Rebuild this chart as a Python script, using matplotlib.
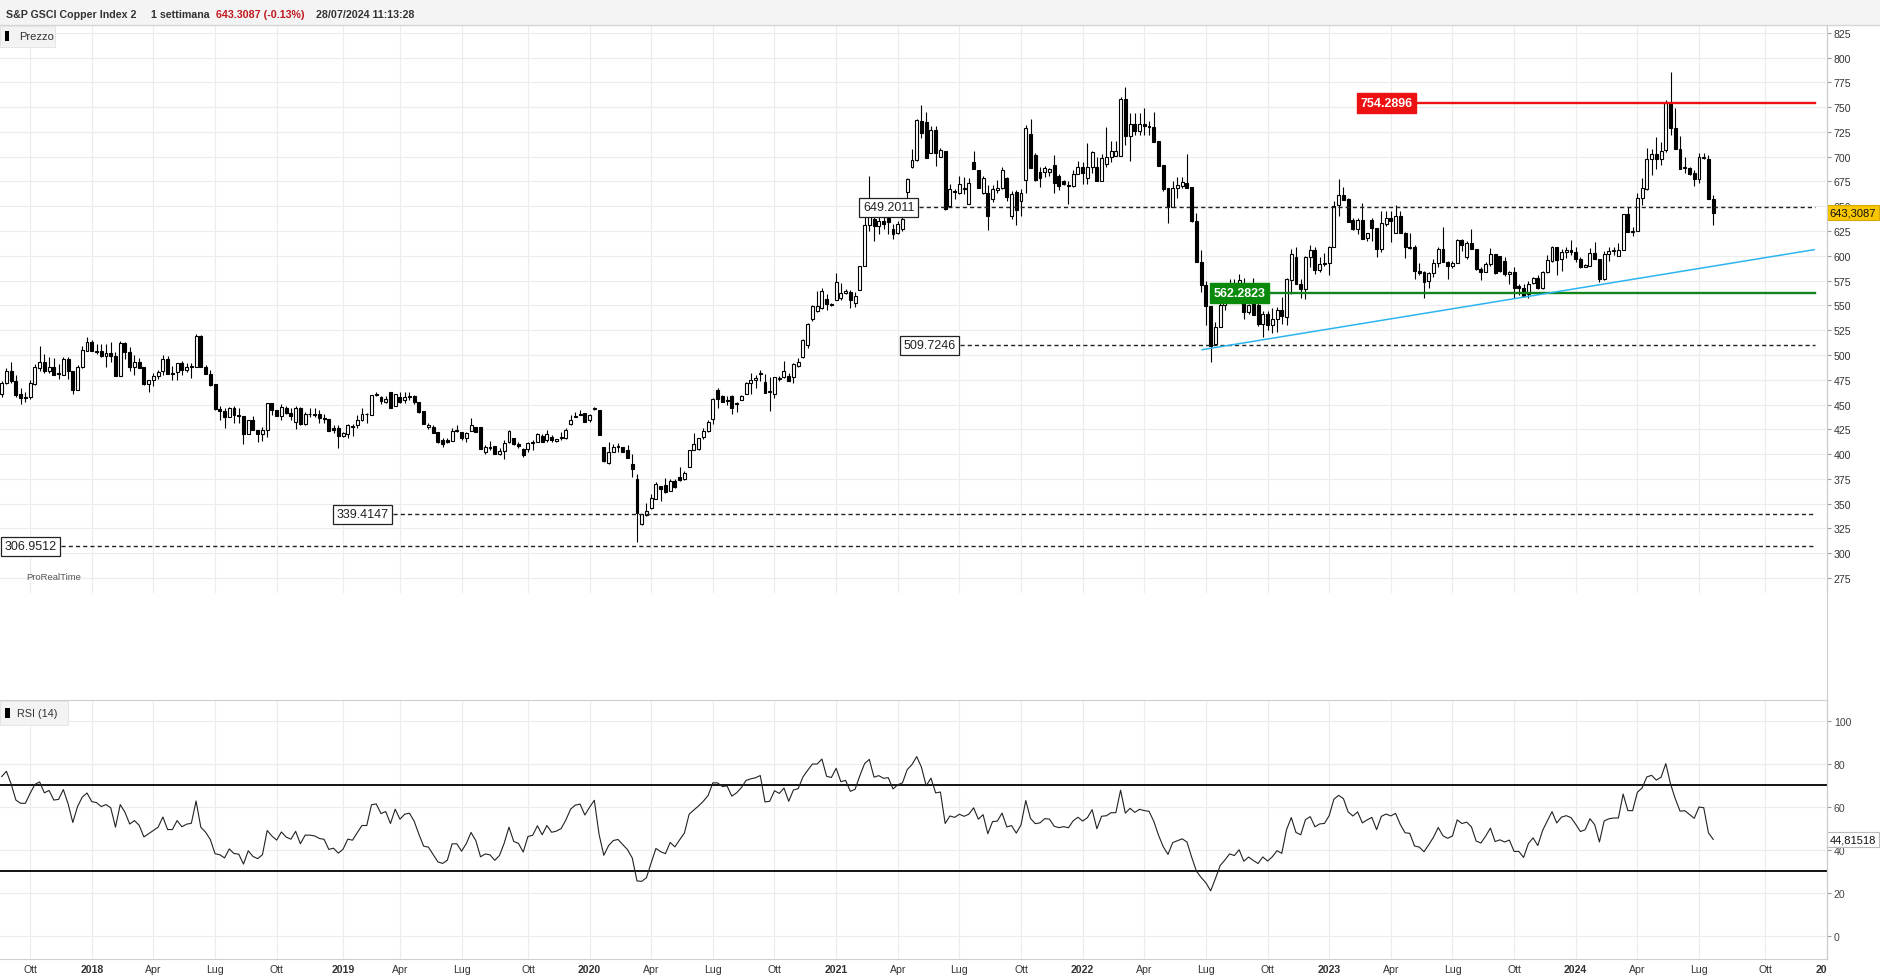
import numpy as np
import pandas as pd
import matplotlib
matplotlib.use("Agg")
import matplotlib.pyplot as plt
from matplotlib.patches import Rectangle
from matplotlib.lines import Line2D
from matplotlib.transforms import Bbox, TransformedBbox, blended_transform_factory

plt.rcParams['font.family'] = ['Liberation Sans', 'DejaVu Sans']

W, H = 1880, 979

# weekly bars, monday of the first bar
first_week = "2017-08-21"

opens = [
    461, 472, 484, 474, 461, 458, 458, 471, 487, 493, 484, 488, 482, 480, 496, 484, 465, 488, 504, 513,
    504, 504, 499, 502, 499, 479, 512, 503, 488, 493, 488, 471, 475, 479, 484, 496, 482, 483, 492, 485,
    488, 488, 519, 488, 481, 471, 445, 443, 437, 447, 439, 438, 420, 434, 424, 420, 424, 452, 444, 438,
    447, 441, 432, 447, 430, 440, 440, 440, 436, 435, 426, 426, 418, 420, 427, 429, 434, 440, 439, 460,
    458, 453, 463, 449, 458, 455, 458, 459, 453, 443, 427, 427, 422, 414, 414, 413, 424, 422, 416, 423,
    427, 427, 402, 406, 408, 400, 403, 412, 416, 410, 405, 405, 411, 412, 418, 414, 417, 413, 416, 416,
    430, 437, 440, 441, 434, 445, 444, 407, 391, 402, 407, 407, 404, 390, 375, 329, 339, 346, 355, 368,
    369, 363, 373, 377, 375, 387, 404, 405, 417, 423, 435, 465, 459, 454, 459, 452, 455, 461, 472, 475,
    481, 473, 463, 461, 476, 478, 479, 478, 489, 498, 510, 536, 544, 547, 556, 551, 555, 557, 562, 563,
    552, 566, 590, 631, 637, 630, 635, 638, 627, 623, 627, 664, 690, 697, 736, 735, 704, 727, 700, 706,
    650, 665, 663, 667, 652, 695, 687, 663, 663, 657, 666, 668, 678, 640, 664, 655, 676, 723, 702, 685,
    685, 685, 692, 680, 675, 671, 670, 683, 690, 678, 690, 690, 675, 693, 700, 701, 701, 758, 721, 733,
    726, 733, 731, 730, 716, 692, 668, 649, 668, 670, 673, 669, 635, 594, 571, 549, 511, 528, 550, 560,
    571, 566, 565, 543, 559, 550, 531, 541, 530, 536, 545, 538, 576, 599, 572, 567, 599, 606, 586, 592,
    593, 609, 651, 661, 657, 636, 627, 636, 618, 636, 628, 607, 632, 638, 623, 640, 623, 609, 609, 585,
    584, 575, 583, 593, 607, 594, 590, 593, 616, 599, 613, 607, 587, 584, 592, 602, 600, 595, 582, 584,
    570, 568, 561, 573, 578, 568, 584, 595, 609, 597, 604, 606, 604, 597, 589, 590, 603, 597, 577, 602,
    605, 600, 606, 642, 625, 625, 658, 667, 698, 703, 698, 707, 754, 729, 708, 689, 689, 684, 677, 699,
    698, 657,
]
highs = [
    474, 487, 493, 480, 467, 463, 475, 491, 509, 501, 498, 497, 491, 498, 498, 484, 490, 509, 518, 515,
    511, 511, 511, 513, 503, 514, 513, 508, 500, 497, 488, 475, 482, 485, 500, 499, 489, 492, 494, 492,
    492, 521, 520, 490, 485, 471, 449, 446, 448, 449, 446, 438, 434, 438, 424, 427, 452, 452, 444, 451,
    449, 446, 449, 448, 442, 446, 446, 444, 440, 435, 429, 429, 422, 430, 430, 439, 446, 441, 460, 463,
    459, 459, 463, 461, 463, 463, 463, 460, 453, 443, 431, 429, 422, 416, 416, 426, 429, 422, 422, 436,
    427, 427, 409, 413, 408, 406, 414, 424, 416, 412, 406, 412, 414, 421, 420, 424, 419, 415, 422, 426,
    439, 442, 444, 441, 440, 448, 444, 407, 412, 410, 411, 407, 409, 400, 380, 340, 351, 360, 372, 368,
    376, 375, 375, 387, 383, 404, 421, 416, 426, 434, 457, 467, 460, 459, 460, 453, 460, 473, 482, 480,
    485, 481, 478, 478, 479, 494, 482, 492, 497, 516, 532, 550, 565, 568, 561, 552, 583, 573, 567, 566,
    564, 590, 639, 681, 645, 640, 645, 645, 632, 635, 640, 678, 708, 738, 752, 745, 731, 731, 709, 706,
    672, 667, 680, 679, 678, 706, 687, 681, 671, 671, 676, 690, 679, 665, 666, 667, 732, 738, 704, 690,
    691, 689, 702, 683, 676, 675, 687, 696, 695, 714, 706, 700, 703, 730, 716, 716, 760, 770, 744, 744,
    744, 749, 736, 745, 716, 692, 668, 675, 679, 679, 703, 669, 643, 606, 575, 549, 533, 572, 566, 577,
    577, 582, 578, 551, 578, 552, 544, 544, 547, 548, 558, 578, 607, 609, 577, 600, 611, 609, 599, 603,
    610, 655, 677, 669, 658, 638, 638, 653, 623, 638, 628, 645, 645, 645, 651, 645, 624, 623, 611, 593,
    585, 584, 597, 609, 629, 595, 595, 617, 617, 615, 627, 607, 589, 594, 608, 602, 600, 599, 585, 589,
    572, 572, 575, 579, 581, 585, 601, 610, 609, 607, 609, 616, 609, 599, 592, 608, 614, 597, 605, 609,
    609, 613, 642, 649, 629, 663, 678, 709, 708, 720, 715, 757, 785, 749, 721, 700, 690, 687, 704, 704,
    702, 661,
]
lows = [
    458, 471, 472, 458, 451, 453, 456, 470, 484, 482, 482, 480, 476, 480, 476, 461, 465, 487, 504, 504,
    501, 498, 488, 493, 479, 479, 496, 484, 480, 487, 470, 463, 469, 476, 480, 481, 475, 475, 480, 483,
    477, 488, 488, 481, 469, 444, 434, 426, 437, 431, 431, 410, 420, 424, 412, 413, 417, 439, 438, 434,
    440, 434, 425, 429, 429, 437, 437, 431, 431, 423, 421, 406, 417, 416, 418, 426, 433, 431, 439, 459,
    451, 452, 447, 449, 452, 452, 455, 451, 441, 430, 425, 421, 411, 407, 411, 413, 422, 414, 412, 423,
    422, 405, 400, 404, 400, 399, 395, 411, 409, 406, 397, 402, 404, 412, 412, 412, 412, 412, 414, 415,
    429, 437, 439, 432, 432, 444, 419, 392, 390, 402, 402, 402, 396, 377, 311, 328, 338, 345, 355, 353,
    361, 363, 366, 373, 374, 387, 404, 404, 415, 422, 430, 447, 453, 450, 440, 442, 455, 461, 461, 467,
    474, 462, 443, 457, 474, 477, 474, 472, 488, 497, 507, 534, 543, 546, 545, 549, 555, 555, 561, 547,
    548, 566, 590, 625, 615, 622, 627, 622, 617, 622, 625, 657, 689, 696, 719, 699, 704, 691, 700, 646,
    650, 657, 662, 662, 652, 688, 668, 662, 626, 654, 663, 667, 655, 637, 631, 640, 663, 689, 675, 669,
    679, 680, 663, 666, 671, 652, 669, 683, 672, 672, 684, 675, 675, 690, 695, 701, 701, 712, 696, 722,
    722, 722, 722, 715, 691, 665, 633, 649, 658, 668, 668, 634, 594, 564, 530, 493, 510, 528, 545, 553,
    560, 560, 536, 541, 540, 529, 518, 525, 522, 523, 531, 530, 561, 573, 557, 556, 589, 582, 584, 590,
    581, 609, 640, 656, 634, 626, 622, 617, 615, 615, 599, 604, 630, 614, 623, 623, 598, 607, 577, 581,
    557, 568, 579, 589, 595, 577, 588, 593, 605, 597, 607, 586, 576, 584, 590, 582, 584, 580, 572, 557,
    560, 558, 557, 572, 567, 567, 583, 594, 581, 585, 598, 601, 594, 588, 589, 590, 597, 574, 576, 595,
    601, 600, 606, 624, 620, 625, 651, 666, 682, 688, 692, 705, 722, 708, 688, 684, 682, 670, 673, 698,
    657, 631,
]
closes = [
    472, 484, 474, 460, 457, 457, 472, 488, 493, 484, 488, 480, 481, 496, 484, 465, 488, 505, 513, 504,
    503, 499, 502, 499, 479, 512, 503, 488, 493, 487, 471, 475, 479, 483, 496, 481, 481, 492, 485, 488,
    489, 519, 488, 481, 470, 445, 443, 437, 447, 439, 438, 420, 434, 424, 420, 424, 452, 444, 438, 448,
    441, 438, 447, 430, 440, 440, 439, 436, 435, 423, 424, 418, 421, 429, 428, 434, 440, 440, 460, 461,
    454, 456, 447, 461, 453, 458, 459, 453, 442, 430, 429, 421, 412, 410, 412, 423, 423, 416, 421, 429,
    422, 405, 407, 406, 400, 403, 411, 423, 410, 408, 399, 411, 412, 420, 412, 420, 414, 415, 417, 424,
    434, 438, 439, 432, 439, 446, 419, 393, 402, 407, 408, 402, 396, 385, 341, 340, 343, 356, 370, 365,
    362, 373, 367, 374, 381, 404, 410, 416, 423, 432, 456, 456, 453, 454, 446, 451, 459, 472, 475, 477,
    481, 462, 463, 478, 476, 484, 474, 491, 493, 515, 531, 549, 549, 565, 551, 550, 574, 562, 565, 555,
    559, 590, 631, 650, 630, 635, 632, 634, 622, 632, 637, 677, 697, 737, 724, 699, 727, 704, 707, 647,
    667, 664, 672, 668, 673, 688, 668, 678, 640, 667, 668, 687, 659, 662, 646, 663, 729, 689, 676, 678,
    689, 688, 673, 670, 672, 670, 683, 690, 684, 690, 705, 675, 699, 700, 706, 706, 758, 721, 733, 726,
    733, 731, 730, 715, 691, 667, 649, 668, 671, 674, 668, 635, 594, 571, 549, 509, 528, 550, 560, 571,
    566, 576, 543, 550, 540, 531, 541, 530, 536, 545, 539, 577, 602, 572, 567, 599, 606, 586, 592, 593,
    609, 650, 661, 656, 634, 627, 636, 617, 623, 628, 607, 633, 638, 635, 640, 623, 609, 608, 585, 583,
    574, 583, 593, 607, 594, 590, 593, 616, 611, 613, 607, 587, 584, 592, 602, 583, 585, 582, 584, 568,
    568, 559, 572, 578, 568, 584, 596, 609, 596, 604, 606, 604, 597, 589, 591, 603, 597, 577, 602, 605,
    606, 606, 642, 624, 624, 658, 668, 698, 703, 698, 706, 754, 729, 708, 688, 689, 683, 677, 700, 699,
    657, 643.3087,
]

# RSI(14) shown on the very first bar (history before it is not on the chart)
rsi_first = 74.0

# horizontal levels drawn on the chart, with the bar where their label box sits
dashed_levels = [306.9512, 339.4147, 509.7246, 649.2011]
dashed_label_bar = [6.1, 76.1, 195.7, 187.1]
support_level = 562.2823
support_label_bar = 261.1
resistance_level = 754.2896
resistance_label_bar = 292.1
trend_bars = [253.2, 382.3]
trend_values = [505.3, 606.2]
last_price = 643.3087
last_rsi = 44.81518

# ---- data prep
n = len(closes)
o = np.array(opens, float)
h = np.array(highs, float)
l = np.array(lows, float)
c = np.array(closes, float)
x = np.arange(n)

# Wilder RSI, averages seeded so the first bar shows rsi_first
chg = np.diff(c)
scale = np.mean(np.abs(chg[:14]))
ag = rsi_first / 100 * scale
al = (1 - rsi_first / 100) * scale
rsi = [rsi_first]
for ch in chg:
    ag = (ag * 13 + max(ch, 0)) / 14
    al = (al * 13 + max(-ch, 0)) / 14
    rsi.append(100 - 100 / (1 + ag / al))
rsi = np.array(rsi)

# quarter ticks: first bar on/after the 1st of Jan/Apr/Jul/Oct
start = pd.Timestamp(first_week)
qstarts = pd.date_range("2017-10-01", "2025-01-01", freq="QS-JAN")
mnames = {4: "Apr", 7: "Lug", 10: "Ott"}
tick_pos, tick_lab = [], []
for q in qstarts:
    tick_pos.append(int(np.ceil((q - start).days / 7)))
    tick_lab.append(str(q.year) if q.month == 1 else mnames[q.month])


def fx(px):
    return px / W


def fy(py):
    return 1 - py / H


x_left = -1.7 / 4.772
x_right = (1827 - 1.7) / 4.772

fig = plt.figure(figsize=(W / 100, H / 100), dpi=100)
fig.patch.set_facecolor("white")

# header bar
fig.patches.append(Rectangle((0, fy(26)), 1, 26 / H, transform=fig.transFigure,
                             facecolor="#f4f4f4", edgecolor="none", zorder=0))
fig.lines.append(Line2D([0, 1], [fy(26), fy(26)], transform=fig.transFigure, color="#d6d6d6", lw=1))
hy = fy(15)
hsize = 7.7
fig.text(fx(6), hy, "S&P GSCI Copper Index 2", fontsize=hsize, fontweight="bold", color="#333333", va="center")
fig.text(fx(151), hy, "1 settimana", fontsize=hsize, fontweight="bold", color="#333333", va="center")
fig.text(fx(216), hy, "643.3087 (-0.13%)", fontsize=hsize, fontweight="bold", color="#c0181e", va="center")
fig.text(fx(316), hy, "28/07/2024 11:13:28", fontsize=hsize, fontweight="bold", color="#333333", va="center")

# ---- price panel
ax = fig.add_axes([0, fy(594), fx(1827), (594 - 26) / H])
ax.set_xlim(x_left, x_right)
ax.set_ylim(259.9, 832.8)
for s in ["top", "left", "bottom"]:
    ax.spines[s].set_visible(False)
ax.spines["right"].set_color("#cccccc")
ax.set_yticks(np.arange(275, 826, 25))
ax.yaxis.tick_right()
ax.tick_params(axis="y", length=3, width=0.8, color="#999999", labelsize=7.6, labelcolor="#333333", pad=2)
ax.set_xticks(tick_pos)
ax.tick_params(axis="x", length=0, labelbottom=False)
ax.grid(True, color="#ececec", lw=0.8, zorder=0)
ax.set_axisbelow(True)

up = c >= o
lo = np.minimum(o, c)
bh = np.maximum(np.abs(c - o), 0.9)
ax.vlines(x, l, h, color="black", lw=0.8, zorder=2)
ax.bar(x[up], bh[up], bottom=lo[up], width=0.62, facecolor="white", edgecolor="black", lw=0.8, zorder=3)
ax.bar(x[~up], bh[~up], bottom=lo[~up], width=0.62, facecolor="black", edgecolor="black", lw=0.8, zorder=3)

box_half = 6.4  # half width of the value boxes, in bars
for lvl, bx in zip(dashed_levels, dashed_label_bar):
    ax.plot([bx + box_half, x_right], [lvl, lvl], color="#222222", lw=1.0, dashes=(3, 2.2), zorder=4)
    ax.text(bx, lvl, f"{lvl:.4f}", ha="center", va="center", fontsize=9, color="#222222", zorder=6,
            bbox=dict(boxstyle="square,pad=0.28", facecolor="white", edgecolor="#222222", lw=0.9))

ax.plot([support_label_bar + box_half, x_right], [support_level] * 2, color="#12851a", lw=1.7, zorder=4)
ax.text(support_label_bar, support_level, f"{support_level:.4f}", ha="center", va="center", fontsize=9,
        fontweight="bold", color="white", zorder=6,
        bbox=dict(boxstyle="square,pad=0.3", facecolor="#0a8a0a", edgecolor="#0a8a0a"))
ax.plot([resistance_label_bar + box_half, x_right], [resistance_level] * 2, color="#ee1111", lw=1.7, zorder=4)
ax.text(resistance_label_bar, resistance_level, f"{resistance_level:.4f}", ha="center", va="center", fontsize=9,
        fontweight="bold", color="white", zorder=6,
        bbox=dict(boxstyle="square,pad=0.3", facecolor="#ee1111", edgecolor="#ee1111"))
ax.plot(trend_bars, trend_values, color="#2bb5f0", lw=1.1, zorder=4)

tr = blended_transform_factory(ax.transAxes, ax.transData)
ax.text(1.0015, last_price, f"{last_price:.4f}".replace(".", ","), transform=tr, ha="left", va="center",
        fontsize=8, color="#111111", zorder=7, clip_on=False,
        bbox=dict(boxstyle="square,pad=0.22", facecolor="#f7c600", edgecolor="#d4a800", lw=0.8))

# legend tag and watermark
fig.patches.append(Rectangle((0, fy(48)), fx(55), 21 / H, transform=fig.transFigure,
                             facecolor="#f3f3f3", edgecolor="#e2e2e2", lw=0.6, zorder=5))
fig.patches.append(Rectangle((fx(5), fy(42)), fx(4), 10 / H, transform=fig.transFigure,
                             facecolor="black", edgecolor="none", zorder=6))
fig.text(fx(19), fy(37.5), "Prezzo", fontsize=8, color="#333333", va="center", zorder=7)
fig.text(fx(26), fy(578), "ProRealTime", fontsize=6.8, color="#555555", va="center")

# ---- RSI panel
axr = fig.add_axes([0, fy(960), fx(1827), (960 - 701) / H])
axr.set_xlim(x_left, x_right)
axr.set_ylim(-10.84, 109.6)
axr.spines["left"].set_visible(False)
for s in ["top", "bottom", "right"]:
    axr.spines[s].set_color("#cfcfcf")
axr.set_yticks(np.arange(0, 101, 20))
axr.yaxis.tick_right()
axr.tick_params(axis="y", length=3, width=0.8, color="#999999", labelsize=7.6, labelcolor="#444444", pad=2)
axr.set_xticks(tick_pos)
axr.tick_params(axis="x", length=0, labelbottom=False)
axr.grid(True, color="#ececec", lw=0.8, zorder=0)
axr.set_axisbelow(True)
axr.axhline(70, color="black", lw=1.3, zorder=2)
axr.axhline(30, color="black", lw=1.3, zorder=2)
axr.plot(x, rsi, color="#222222", lw=0.8, zorder=3)

trr = blended_transform_factory(axr.transAxes, axr.transData)
axr.text(1.0015, last_rsi, f"{last_rsi:.5f}".replace(".", ","), transform=trr, ha="left", va="center",
         fontsize=8, color="#111111", zorder=7, clip_on=False,
         bbox=dict(boxstyle="square,pad=0.22", facecolor="white", edgecolor="#bbbbbb", lw=0.8))

fig.patches.append(Rectangle((0, fy(726)), fx(68), 24 / H, transform=fig.transFigure,
                             facecolor="#f3f3f3", edgecolor="#e2e2e2", lw=0.6, zorder=5))
fig.patches.append(Rectangle((fx(5), fy(719)), fx(5), 10 / H, transform=fig.transFigure,
                             facecolor="black", edgecolor="none", zorder=6))
fig.text(fx(17), fy(714), "RSI (14)", fontsize=7.8, color="#333333", va="center", zorder=7)

# x labels below RSI panel, last one clipped at the panel edge
clip = TransformedBbox(Bbox([[0, 0], [fx(1827), 1]]), fig.transFigure)
txr = blended_transform_factory(axr.transData, fig.transFigure)
for p, lab in zip(tick_pos, tick_lab):
    t = axr.text(p, fy(970), lab, transform=txr, ha="center", va="center", fontsize=7.6,
                 color="#333333", fontweight="bold" if lab.isdigit() else "normal", clip_on=True)
    t.set_clip_box(clip)

fig.lines.append(Line2D([fx(1827), fx(1827)], [fy(960), fy(26)], transform=fig.transFigure,
                        color="#cccccc", lw=0.8))

fig.savefig("out.png", dpi=100)
